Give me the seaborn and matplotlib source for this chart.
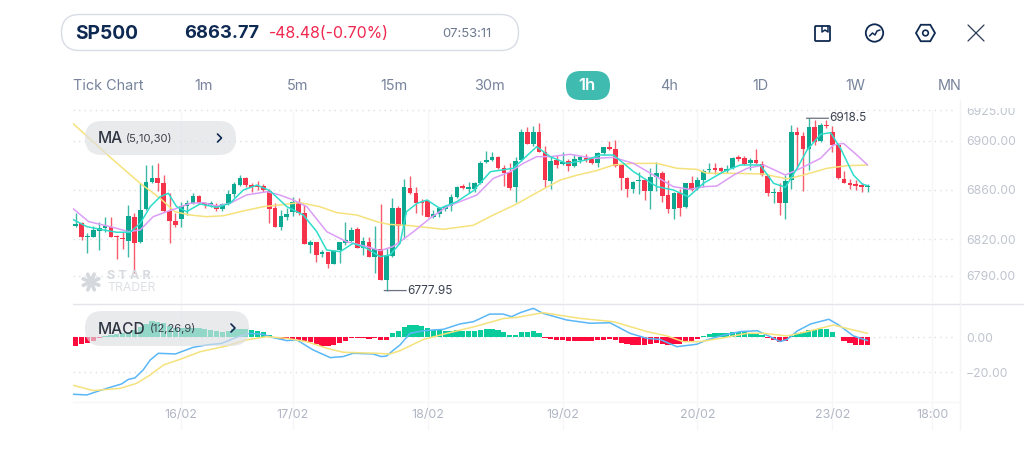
import numpy as np
import pandas as pd
import seaborn as sns
import matplotlib
matplotlib.use("Agg")
import matplotlib.pyplot as plt
from matplotlib.patches import FancyBboxPatch, Circle, RegularPolygon
from matplotlib.transforms import Bbox

# Hourly SP500 candles
opens = [6831,6833.3,6821.4,6821.4,6826.3,6829.3,6829.8,6822.5,6820.8,6818.7,6838.2,6817.6,6844.7,6866.5,6869.5,6865.4,6843.1,6834.7,6836.3,6846.9,
         6849.1,6855.4,6849.4,6847.5,6847.8,6844.5,6848.6,6856.7,6863.8,6869.8,6864.3,6863.5,6863,6859.4,6845.3,6829.5,6838.2,6842.3,6850.5,6841.5,
         6814.8,6817.3,6807.8,6809.4,6799.9,6811,6816.5,6818.7,6827.9,6812.4,6817.8,6805.6,6812.1,6786.6,6806.1,6845.6,6831.2,6861.6,6857.3,6850.5,
         6851,6838.2,6840.4,6844.8,6846.9,6854.5,6863,6861.1,6860.8,6866,6882.6,6884.5,6886.9,6878.2,6874.4,6862.2,6884.5,6907.6,6897.2,6907.3,
         6891.3,6867.3,6884.5,6881.2,6883.4,6879.3,6884.7,6886.1,6886.1,6881.7,6890.4,6895.1,6893.7,6880.1,6869.5,6861.1,6867,6868.1,6859.4,6870.6,
         6874.1,6855.9,6844.2,6857.5,6845.8,6866,6861.3,6868.1,6876,6877.7,6877.7,6875.2,6877.9,6886.6,6885.8,6881.7,6884.5,6881.2,6871.6,6857.3,
         6858.1,6849.7,6868.1,6907,6904,6893.2,6911.6,6899.7,6913,6907,6896.4,6869.2,6865.4,6864.9,6863.8,6862.2]
closes = [6832.5,6821.4,6822.5,6827.4,6829.3,6830.6,6821.9,6821.4,6819.7,6838.8,6817,6843.7,6866.5,6869.8,6865.4,6842.6,6834.4,6831.7,6846.9,6849.1,
          6855.1,6849.1,6848,6849.4,6844.8,6848.6,6856.7,6864.9,6870,6863.8,6862.4,6862.2,6860,6844.8,6830.1,6838.8,6840.4,6850.5,6841.5,6816,
          6817.3,6807.2,6809.4,6799.6,6810.5,6817.3,6819.2,6827.4,6812.7,6818.7,6805.6,6812.1,6786.6,6806.1,6845.6,6830.6,6862.2,6857.3,6849.7,6849.7,
          6838.2,6840.4,6845,6846.4,6854.3,6862.4,6861.6,6862.4,6865.4,6882,6884.2,6886.9,6877.9,6874.1,6861.9,6883.9,6907.6,6897.8,6907.6,6891.3,
          6867.9,6883.4,6880.4,6882.8,6879.6,6885.3,6886.6,6884.5,6881.7,6890.2,6894.8,6893.2,6879.8,6869.8,6861.1,6866.5,6868.1,6859.4,6870.6,6873.8,
          6855.4,6844.5,6857.5,6845.6,6865.4,6860,6868.1,6875.5,6877.4,6876.6,6875.5,6877.4,6885.8,6885.3,6881.5,6884.5,6881.7,6871.9,6857.3,6858.6,
          6849.7,6867.3,6907,6904.6,6893.2,6911.6,6899.1,6913,6911.9,6897,6869.8,6865.7,6863.8,6863.2,6862.2,6863.5]
highs = [6841,6834,6824.6,6830.9,6834.2,6838.2,6837.7,6823.3,6826,6847.5,6841,6865.4,6880.4,6880.4,6881.7,6872.2,6857.3,6841,6850.5,6851.8,
         6857.3,6856.2,6850.5,6851.3,6849.1,6849.7,6860,6866.8,6872,6870.3,6865.4,6867.3,6864.6,6860.5,6849.1,6843.7,6845,6854,6853.2,6847.8,
         6819.2,6817.3,6811,6809.7,6811,6817.8,6834.2,6829.5,6829.5,6821.9,6821.4,6830.9,6848.6,6812.4,6853.2,6846.9,6868.7,6871.4,6862.7,6852.4,
         6851.8,6843.7,6845.8,6847.8,6856.5,6863.2,6864.6,6866.5,6866.8,6883.6,6892,6891.2,6887.7,6880.4,6881.7,6886.6,6909.5,6911,6912.2,6914.4,
         6895.9,6887.2,6888.5,6890.7,6885,6888.5,6887.7,6889.4,6887.2,6891.2,6895.3,6900.2,6900.8,6881.2,6870.3,6867.3,6874.7,6869.2,6877.6,6882.6,
         6875.8,6868.1,6858.6,6860.5,6866,6871.4,6870.3,6876.8,6881.7,6881.7,6879,6880.4,6887.2,6888.5,6887.7,6885.8,6893.4,6883.6,6872.2,6861.3,
         6865.4,6872.2,6913,6911,6907,6918.5,6917.1,6914.4,6917.1,6912.2,6898.1,6875.5,6868.7,6868.1,6865.4,6864.6]
lows = [6829.5,6819,6808.3,6821.4,6811,6826,6821.4,6804,6811.6,6805.6,6792,6817,6843.7,6866,6859.4,6842.3,6817,6830.1,6830,6839.6,
        6848.6,6848.6,6845,6846.4,6843.1,6843.1,6847.8,6854.5,6863.3,6862.2,6858.6,6860,6858.6,6832.8,6829.5,6827.4,6835.5,6838.8,6839.6,6816,
        6808.9,6801.3,6805,6796.1,6799.6,6800.2,6815.1,6817.8,6812.4,6807,6805.6,6792,6786.6,6777.95,6805.6,6816.5,6819.7,6856.7,6841.5,6839.6,
        6837.7,6836.9,6837.7,6843.1,6843.1,6853.2,6860.5,6857.3,6858.6,6864.9,6881.7,6883.9,6876.8,6863.2,6860,6850.5,6883.9,6897.5,6895.9,6891.3,
        6862.7,6861.1,6877.6,6880.4,6875.8,6879,6881.7,6883.1,6881.2,6879,6888.5,6892.6,6878.5,6860,6854.5,6857.3,6856.7,6851.8,6844.8,6859.4,
        6850.2,6841.5,6836,6838.8,6845,6859.4,6860,6862.7,6874.1,6873,6874.7,6874.1,6877.4,6883.9,6880.4,6876.3,6881.2,6871.4,6855.1,6849.1,
        6839.6,6836.3,6860.5,6877.7,6859.4,6876.3,6896.7,6899.1,6910.3,6891.3,6869.2,6865.4,6861.1,6860,6858.6,6858.1]

# Moving averages, read per session position
ma5_pos = [-0.5,1.9,4.7,7,9.3,11,12.7,14.4,15.8,17.2,18.9,21.2,24,26.3,28.6,30.9,33.1,36,38.8,41.1,42.8,45.1,47.3,49.6,51.9,53.6,55.3,56.4,58.2,59.9,62.1,65,67.8,70.7,74.6,78.6,80.9,83.7,87.1,89.4,91.7,95.1,99.1,101.9,104.5,107,110.5,113.3,116.7,119,121,123,124.7,127,128.7,130.4,132.6,134.1,135]
ma5 = [6836,6830.1,6827.4,6825.5,6825.5,6832.8,6846.4,6854.5,6857.3,6846.4,6842.3,6848.6,6845.8,6849.1,6860,6864,6859.4,6846.4,6839.6,6826,6811,6809.7,6816.5,6812.4,6805.6,6807,6816.5,6842.3,6849.1,6851.8,6845,6850.5,6859.4,6874.9,6877.7,6895.3,6887.2,6881.7,6884.5,6888.5,6888.5,6875,6862.7,6860,6854.5,6865.4,6875,6880.4,6880.4,6865.4,6862.2,6877.7,6892.6,6905.4,6906.8,6894,6872.2,6864.9,6863.5]
ma10_pos = [-0.5,2.2,4.7,7,9,11,13.2,15.5,17.2,19.5,21.8,24,26.3,29.1,32.6,34.8,37.1,39.4,42.8,46.2,49.6,51.9,54.1,55.3,57.6,60.4,63.3,65.5,68.4,71.2,74.1,76.3,78.6,80.9,84.3,88.3,91.7,95.1,98.5,101.9,104.7,107.1,109.3,112.2,114.5,117.3,121,123.6,127,129.2,130.9,133.2,135]
ma10 = [6845,6834.2,6831.4,6828.7,6826,6827.4,6838.2,6842.3,6845,6849.1,6849.7,6846.9,6849.1,6855.9,6858.6,6855.9,6851.8,6846.4,6826,6817.8,6813.8,6810.5,6813.8,6817.8,6826,6836.9,6846.4,6850.5,6855.9,6869.5,6874.9,6881.7,6887.2,6887.2,6889.1,6885.8,6886.6,6881.7,6872.2,6862.7,6860.5,6862.7,6863.2,6872.2,6877.7,6880.4,6872.2,6877.7,6885.8,6896.7,6898,6888.5,6880.4]
ma30_pos = [-0.5,5.9,11,14.4,16.9,19.5,22.3,25.2,28.6,32,34.8,38.2,41.6,44.5,47.9,51.3,53.3,57,62.7,67.8,71.2,75.2,78.6,82.6,85.4,88.8,91.7,95.1,99.1,102.5,105.9,107.6,112.2,117.3,121.3,124.1,128.1,131.5,135]
ma30 = [6914.4,6886.6,6865.4,6853.2,6842.3,6839.6,6838.2,6839,6842.9,6846.4,6847.8,6849.7,6846.4,6841.5,6839.6,6834.2,6832,6830.9,6827.9,6831.2,6839.6,6848.6,6857.8,6868.1,6872,6875.8,6880.4,6881.7,6881.7,6877.7,6876.8,6873.6,6873.6,6873,6869,6872.2,6877.7,6879.8,6880.4]

# MACD histogram, one bar per candle
macd_hist = [-4.8,-4,-3,-1.9,-0.4,1,1.3,1.7,2.3,3,4.2,6.1,7.7,9.6,9,8,6.5,5.6,5.2,5.6,
             5.2,5.2,4.8,4.2,3.6,3.3,3.6,4.8,4.6,4.6,4.2,3.6,3,1.5,-0.3,-1.2,-1.2,-1.3,-1.5,-1.9,
             -2.9,-4,-4.8,-5,-4.6,-3.5,-2.1,-0.6,-0.6,-0.4,-0.8,-0.4,-1.3,-1.3,2.5,3.5,5.8,7.1,7.1,6.5,
             5.4,4.2,4.2,3.6,3.6,4,3.8,3.8,3.8,4.2,4.8,4.8,4.2,2.9,1.3,1.3,2.9,3.3,3.6,2.5,
             -0.3,-0.8,-1.5,-1.7,-2.1,-1.9,-1.9,-1.9,-1.9,-1.5,-1.5,-1,-1.5,-3.1,-4,-4.2,-4.2,-4.4,-3.8,-3.5,
             -3.6,-4.4,-3.8,-4,-2.3,-2.1,-1.2,0.6,1.7,2.3,2.3,2.3,3,3,3,2.5,1.7,1.2,-0.6,-1.5,
             -2.9,-1.9,1,2.3,2.9,4.2,4.2,4.8,4.8,3,0.4,-2.1,-3.5,-4.2,-4.4,-4.4]
macd_pos = [-0.5,1.9,4.1,5.9,7.8,9,10.1,11.5,12.7,14.1,17,20,22.3,24.9,27.4,29.7,32,33.7,36,37.7,40.5,43.4,45.6,47.3,50.7,52.1,53,54.2,55.3,57,59.3,62.7,65.5,67.8,70.6,72.9,74.3,75.8,78,79.7,83.7,87.7,91.1,94.5,97.4,99.6,102.5,105.9,107.6,110.5,113.3,116.2,118.4,120.1,121.3,123,125.3,128.4,130.1,132.6,135]
macd_line = [-32.8,-33.2,-30.7,-28.8,-26.9,-24.2,-23.4,-18.8,-13.1,-9.2,-9.6,-5.8,-4.4,-3.5,0,2.3,1.7,-0.2,-1.9,-1.5,-7.3,-11.7,-11.1,-9.2,-9.6,-11.1,-10.8,-7.3,-4.4,2.3,3.8,4.6,7.7,9,13.4,13.4,11.9,14.2,16.7,13.8,10,8.1,8.4,2.3,-0.6,-1.2,-5.4,-4,-1.5,1.3,3.3,3.8,0.4,-2.5,-1.2,3.6,7.7,10.4,7.1,0.8,-1.9]
signal_pos = [-0.5,3,7.6,10.4,12.7,15,17.8,21.2,25.7,29.1,32.6,36,39.4,42.8,45.6,51.3,53.6,55.3,59.3,63.3,68.4,72.9,75.2,79.7,86,91.7,97.4,100.8,103.6,106.4,109.9,114.5,117.3,121.3,124.7,129.2,132.1,135]
signal_line = [-27.6,-30.7,-29.4,-26.5,-21.7,-15.9,-12.7,-8.3,-5,-1.5,0.4,-0.6,-2.5,-6.3,-8.6,-9.2,-9.6,-7.7,-1.2,2.3,6.5,10.8,11.5,14.2,10.9,9,3.3,0.8,-2.5,-2.5,-0.6,2.3,2.3,0.8,3.3,7.1,4.6,2.3]

# Axis labels
date_ticks = [18,37,60,83,106,129,146]
date_labels = ["16/02","17/02","18/02","19/02","20/02","23/02","18:00"]
price_ticks = [6925,6900,6860,6820,6790]
macd_ticks = [0,-20]
timeframes = ["Tick Chart","1m","5m","15m","30m","1h","4h","1D","1W","MN"]
timeframe_x = [108.5,204,298,394,489,587,669,760,855,950]
high_mark, low_mark = 6918.5, 6777.95

UP, DOWN = "#0DA892", "#F5334A"
HIST_UP, HIST_DOWN = "#0ACB9B", "#FF0A3C"
GRID = "#DDE0E5"
FAINT = "#F6F6F8"
AXIS_TXT = "#BFC4CF"
NAVY = "#0E2A52"
SLATE = "#76839B"

sns.set_theme(style="white")
plt.rcParams["font.family"] = ["Inter", "DejaVu Sans"]
plt.rcParams["lines.solid_joinstyle"] = "round"

W, H = 1024, 471
fig = plt.figure(figsize=(W/100, H/100), dpi=100, facecolor="white")

def pane(left, top, right, bottom):
    return fig.add_axes([left/W, 1-bottom/H, (right-left)/W, (bottom-top)/H], facecolor="none")

ax = pane(73, 100, 959, 303)
mx = pane(73, 304, 959, 401)
ui = pane(0, 0, W, H)
ui.set_xlim(0, W); ui.set_ylim(H, 0); ui.axis("off"); ui.set_zorder(10)

xlim = (-0.46, 150.6)

# ---- price pane ----
x = np.arange(len(opens))
df = pd.DataFrame({"x": x, "o": opens, "h": highs, "l": lows, "c": closes})
df["up"] = df.c >= df.o
for level in price_ticks:
    ax.axhline(level, xmin=0, xmax=0.9966, color=GRID, lw=1, ls=(0, (1, 3)), zorder=0)
ax.vlines(date_ticks, 6767.8, 6925, color=FAINT, lw=1, zorder=0)

for flag, col in [(True, UP), (False, DOWN)]:
    part = df[df.up == flag]
    ax.vlines(part.x, part.l, part.h, color=col, lw=1.0, alpha=0.8, zorder=2)
    ax.bar(part.x, (part.c - part.o).abs().clip(lower=0.6), bottom=part[["o", "c"]].min(axis=1),
           width=0.8, color=col, linewidth=0, zorder=3)

for px, py, col in [(ma30_pos, ma30, "#F6E27C"), (ma10_pos, ma10, "#DB9DF6"), (ma5_pos, ma5, "#2EDDCB")]:
    sns.lineplot(x=px, y=py, color=col, lw=1.1, ax=ax, zorder=4, estimator=None, sort=False)

for i_mark, val, dx in [(int(np.argmax(highs)), high_mark, 22), (int(np.argmin(lows)), low_mark, 22)]:
    ax.annotate("", xy=(i_mark - 0.4, val), xytext=(dx*0.72, 0), textcoords="offset points",
                arrowprops=dict(arrowstyle="-", color="#6B7080", lw=0.9, shrinkA=0, shrinkB=0), zorder=5)
    ax.annotate(f"{val:g}", xy=(i_mark - 0.4, val), xytext=((dx+1)*0.72, 0), textcoords="offset points",
                va="center", ha="left", fontsize=8.5, color="#3B4250", zorder=5)

ax.set_xlim(*xlim); ax.set_ylim(6767.8, 6933.4)
ax.set_xticks([])
ax.yaxis.tick_right()
ax.set_yticks(price_ticks, [f"{v:.2f}" for v in price_ticks])
ax.tick_params(axis="y", length=0, pad=5.2, labelsize=8.8, labelcolor=AXIS_TXT)
for s in ax.spines.values():
    s.set_visible(False)
# The topmost price label is cut off by the pane edge
ax.get_yticklabels()[0].set_clip_box(Bbox([[950, 0], [1024, H-107.5]]))
ax.get_yticklabels()[0].set_clip_on(True)

# ---- MACD pane ----
for level in macd_ticks:
    mx.axhline(level, xmin=0, xmax=0.9966, color=GRID, lw=1, ls=(0, (1, 3)), zorder=0)
mx.vlines(date_ticks, -36.7, 19.2, color=FAINT, lw=1, zorder=0)
mx.vlines(date_ticks, -0.3, 0, color=FAINT, lw=1, clip_on=False, transform=mx.get_xaxis_transform(), zorder=0)

bars = pd.DataFrame({"x": x, "v": macd_hist})
bars["side"] = np.where(bars.v >= 0, "up", "down")
sns.barplot(data=bars, x="x", y="v", hue="side", palette={"up": HIST_UP, "down": HIST_DOWN},
            native_scale=True, dodge=False, width=0.9, saturation=1, errorbar=None,
            legend=False, linewidth=0, ax=mx, zorder=3)
sns.lineplot(x=macd_pos, y=macd_line, color="#5AB7F7", lw=1.1, ax=mx, zorder=4, estimator=None, sort=False)
sns.lineplot(x=signal_pos, y=signal_line, color="#F5E27C", lw=1.1, ax=mx, zorder=4, estimator=None, sort=False)

mx.set_xlim(*xlim); mx.set_ylim(-36.7, 19.2)
mx.yaxis.tick_right()
mx.set_yticks(macd_ticks, ["0.00", "\u221220.00"])
mx.set_xticks(date_ticks, date_labels)
mx.tick_params(axis="y", length=0, pad=5.2, labelsize=8.8, labelcolor=AXIS_TXT)
mx.tick_params(axis="x", length=0, pad=6, labelsize=9, labelcolor="#B0B6C4")
mx.set_xlabel(""); mx.set_ylabel("")
for s in mx.spines.values():
    s.set_visible(False)

# ---- pane frames ----
ui.plot([73, W], [303.5, 303.5], color="#E3E5EA", lw=1, zorder=1)
ui.plot([73, 959], [401.5, 401.5], color="#F6F6F8", lw=1, zorder=1)
ui.plot([959.5, 959.5], [100, 430], color="#F3F4F6", lw=1, zorder=1)

# ---- header ----
ui.add_patch(FancyBboxPatch((61.5, 14.5), 457, 36, boxstyle="round,pad=0,rounding_size=18",
                            fc="white", ec="#D8DCE5", lw=1))
ui.text(75, 34, "SP500", fontsize=13.8, fontweight="bold", color=NAVY, va="center")
ui.text(184, 34, "6863.77", fontsize=13.2, fontweight="bold", color=NAVY, va="center")
ui.text(269, 34, "-48.48(-0.70%)", fontsize=11.4, color="#F0264F", va="center")
ui.text(442, 34, "07:53:11", fontsize=9.4, color="#6C7890", va="center")

for label, cx in zip(timeframes, timeframe_x):
    if label == "1h":
        ui.add_patch(FancyBboxPatch((566, 71), 44, 29, boxstyle="round,pad=0,rounding_size=14.5",
                                    fc="#3FBBB0", ec="none"))
        ui.text(cx, 85.5, label, fontsize=12, fontweight="semibold", color="white", ha="center", va="center")
    else:
        ui.text(cx, 85.5, label, fontsize=10.4, color=SLATE, ha="center", va="center")

# ---- toolbar icons ----
ui.add_patch(FancyBboxPatch((815, 26), 15, 15, boxstyle="round,pad=0,rounding_size=1", fc="none", ec=NAVY, lw=1.3))
ui.plot([822, 822, 825, 828, 828], [26, 32, 30, 32, 26], color=NAVY, lw=1.1)
ui.add_patch(Circle((874.5, 33), 8.7, fc="none", ec=NAVY, lw=1.3))
ui.plot([869.5, 872.5, 875, 877, 880], [36, 33, 35, 31, 30], color=NAVY, lw=1.1)
ui.add_patch(RegularPolygon((925.5, 33), 6, radius=9.5, orientation=np.pi/6, fc="none", ec=NAVY, lw=1.3))
ui.add_patch(Circle((925.5, 33), 2.8, fc="none", ec=NAVY, lw=1.2))
ui.plot([968, 984], [25, 41], color="#2B3A55", lw=0.9)
ui.plot([968, 984], [41, 25], color="#2B3A55", lw=0.9)

# ---- indicator tags, translucent over the marks ----
ui.add_patch(FancyBboxPatch((85, 121), 151, 34, boxstyle="round,pad=0,rounding_size=17",
                            fc="#DEDFE3", ec="none", alpha=0.65))
ui.text(98, 138.5, "MA", fontsize=11.2, fontweight="medium", color="#2F3542", va="center")
ui.text(126, 138.5, "(5,10,30)", fontsize=8, color="#3A404C", va="center")
ui.plot([217.5, 221.5, 217.5], [134, 138, 142], color=NAVY, lw=1.2)

ui.add_patch(FancyBboxPatch((85, 311), 164, 35, boxstyle="round,pad=0,rounding_size=17",
                            fc="#DEDFE3", ec="none", alpha=0.65))
ui.text(98, 329, "MACD", fontsize=11.2, fontweight="medium", color="#2F3542", va="center")
ui.text(150, 329, "(12,26,9)", fontsize=8, color="#3A404C", va="center")
ui.plot([231, 235, 231], [324, 328, 332], color=NAVY, lw=1.2)

# ---- watermark ----
for ang in np.arange(0, 180, 45):
    dx, dy = 8.5*np.cos(np.radians(ang+22)), 8.5*np.sin(np.radians(ang+22))
    ui.plot([91-dx, 91+dx], [282-dy, 282+dy], color="#D5D8DD", lw=2.6, solid_capstyle="round", zorder=1)
ui.text(107, 276, "S T A R", fontsize=9.2, fontweight="bold", color="#D8DBDF", va="center", zorder=1)
ui.text(107, 288, "TRADER", fontsize=8.8, color="#DDE0E4", va="center", zorder=1)

fig.savefig("out.png", dpi=100, facecolor="white")
